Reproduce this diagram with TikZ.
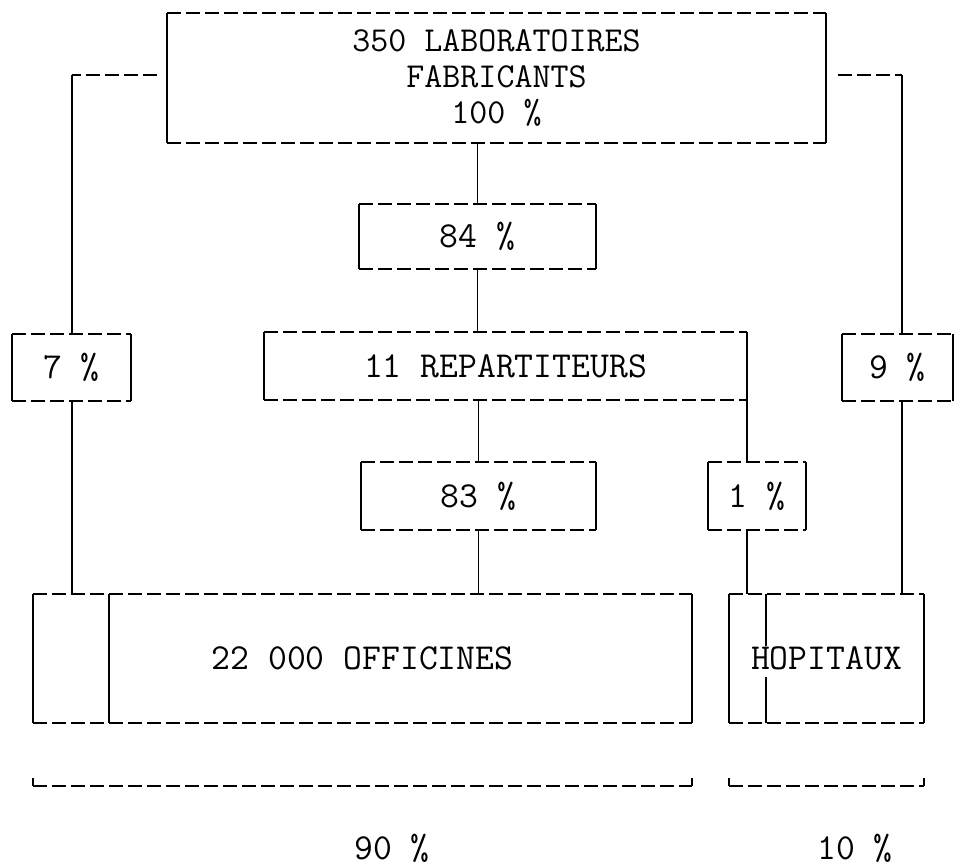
\documentclass[tikz,border=0pt]{standalone}
\usepackage{fontspec}
\usepackage{tikz}
\usetikzlibrary{positioning}

\begin{document}
\begin{tikzpicture}[
  x=0.5pt,y=-0.5pt,
  line width=0.8pt,
  every node/.style={font=\ttfamily\fontsize{18.3}{18.3}\selectfont},
  box/.style={inner sep=0pt,minimum height=33pt},
  gap/.style={dash pattern=on 7pt off 2.5pt}
]
\useasboundingbox (0,0) rectangle (954,865);

\node[box,minimum width=328.5pt,minimum height=64pt,align=center,font=\ttfamily\fontsize{17.5}{17.8}\selectfont] (lab) at (496.5,78) {350 LABORATOIRES\\FABRICANTS\\100 \%};
\node[box,minimum width=117.5pt,minimum height=31.5pt] (p84) at (477.5,236.5) {84 \%};
\node[box,minimum width=240.5pt] (rep) at (505.5,366) {11 REPARTITEURS};
\node[box,minimum width=58.5pt,minimum height=32.5pt] (p7) at (71.5,367.5) {7 \%};
\node[box,minimum width=54.5pt,minimum height=32.5pt] (p9) at (897.5,367.5) {9 \%};
\node[box,minimum width=116.5pt] (p83) at (478.5,496) {83 \%};
\node[box,minimum width=48pt] (p1) at (757,496) {1 \%};
\node[box,minimum width=328.5pt,minimum height=63.5pt] (off) at (362.5,658.5) {22 000 OFFICINES};
\node[box,minimum width=96.5pt,minimum height=63.5pt] (hop) at (826.5,658.5) {HOPITAUX};
\node (t90) at (392,848) {90 \%};
\node (t10) at (855,848) {10 \%};

\foreach \n in {lab,p84,rep,p7,p9,p83,p1,off,hop}{
  \draw[gap] (\n.north west) -- (\n.north east) (\n.south west) -- (\n.south east);
  \draw (\n.north west) -- (\n.south west) (\n.north east) -- (\n.south east);
}
\draw ([xshift=38pt]off.north west) -- ([xshift=38pt]off.south west);
\draw ([xshift=18.5pt]hop.north west) -- ++(0,52) ++(0,31) -- ([xshift=18.5pt]hop.south west);

\coordinate (lend) at (157,75);
\coordinate (lcor) at (72,75);
\coordinate (rend) at (838,75);
\coordinate (rcor) at (902,75);
\draw[gap] (lend) -- (lcor);
\draw (lcor) -- (lcor |- p7.north);
\draw (lcor |- p7.south) -- (lcor |- off.north);
\draw[gap] (rend) -- (rcor);
\draw (rcor) -- (rcor |- p9.north);
\draw (rcor |- p9.south) -- (rcor |- hop.north);

\draw (p84.north |- lab.south) -- (p84.north);
\draw (p84.south) -- (p84.south |- rep.north);
\draw (p83.north |- rep.south) -- (p83.north);
\draw (p83.south) -- (p83.south |- off.north);
\draw (rep.south east) -- (rep.south east |- p1.north);
\draw (rep.south east |- p1.south) -- (rep.south east |- hop.north);

\coordinate (a1) at ([yshift=-31.5pt]off.south west);
\coordinate (a2) at ([yshift=-31.5pt]off.south east);
\coordinate (b1) at ([yshift=-31.5pt]hop.south west);
\coordinate (b2) at ([yshift=-31.5pt]hop.south east);
\draw[gap] (a1) -- (a2) (b1) -- (b2);
\draw (a1) -- ++(0,-8) (a2) -- ++(0,-8) (b1) -- ++(0,-8) (b2) -- ++(0,-8);
\end{tikzpicture}
\end{document}
